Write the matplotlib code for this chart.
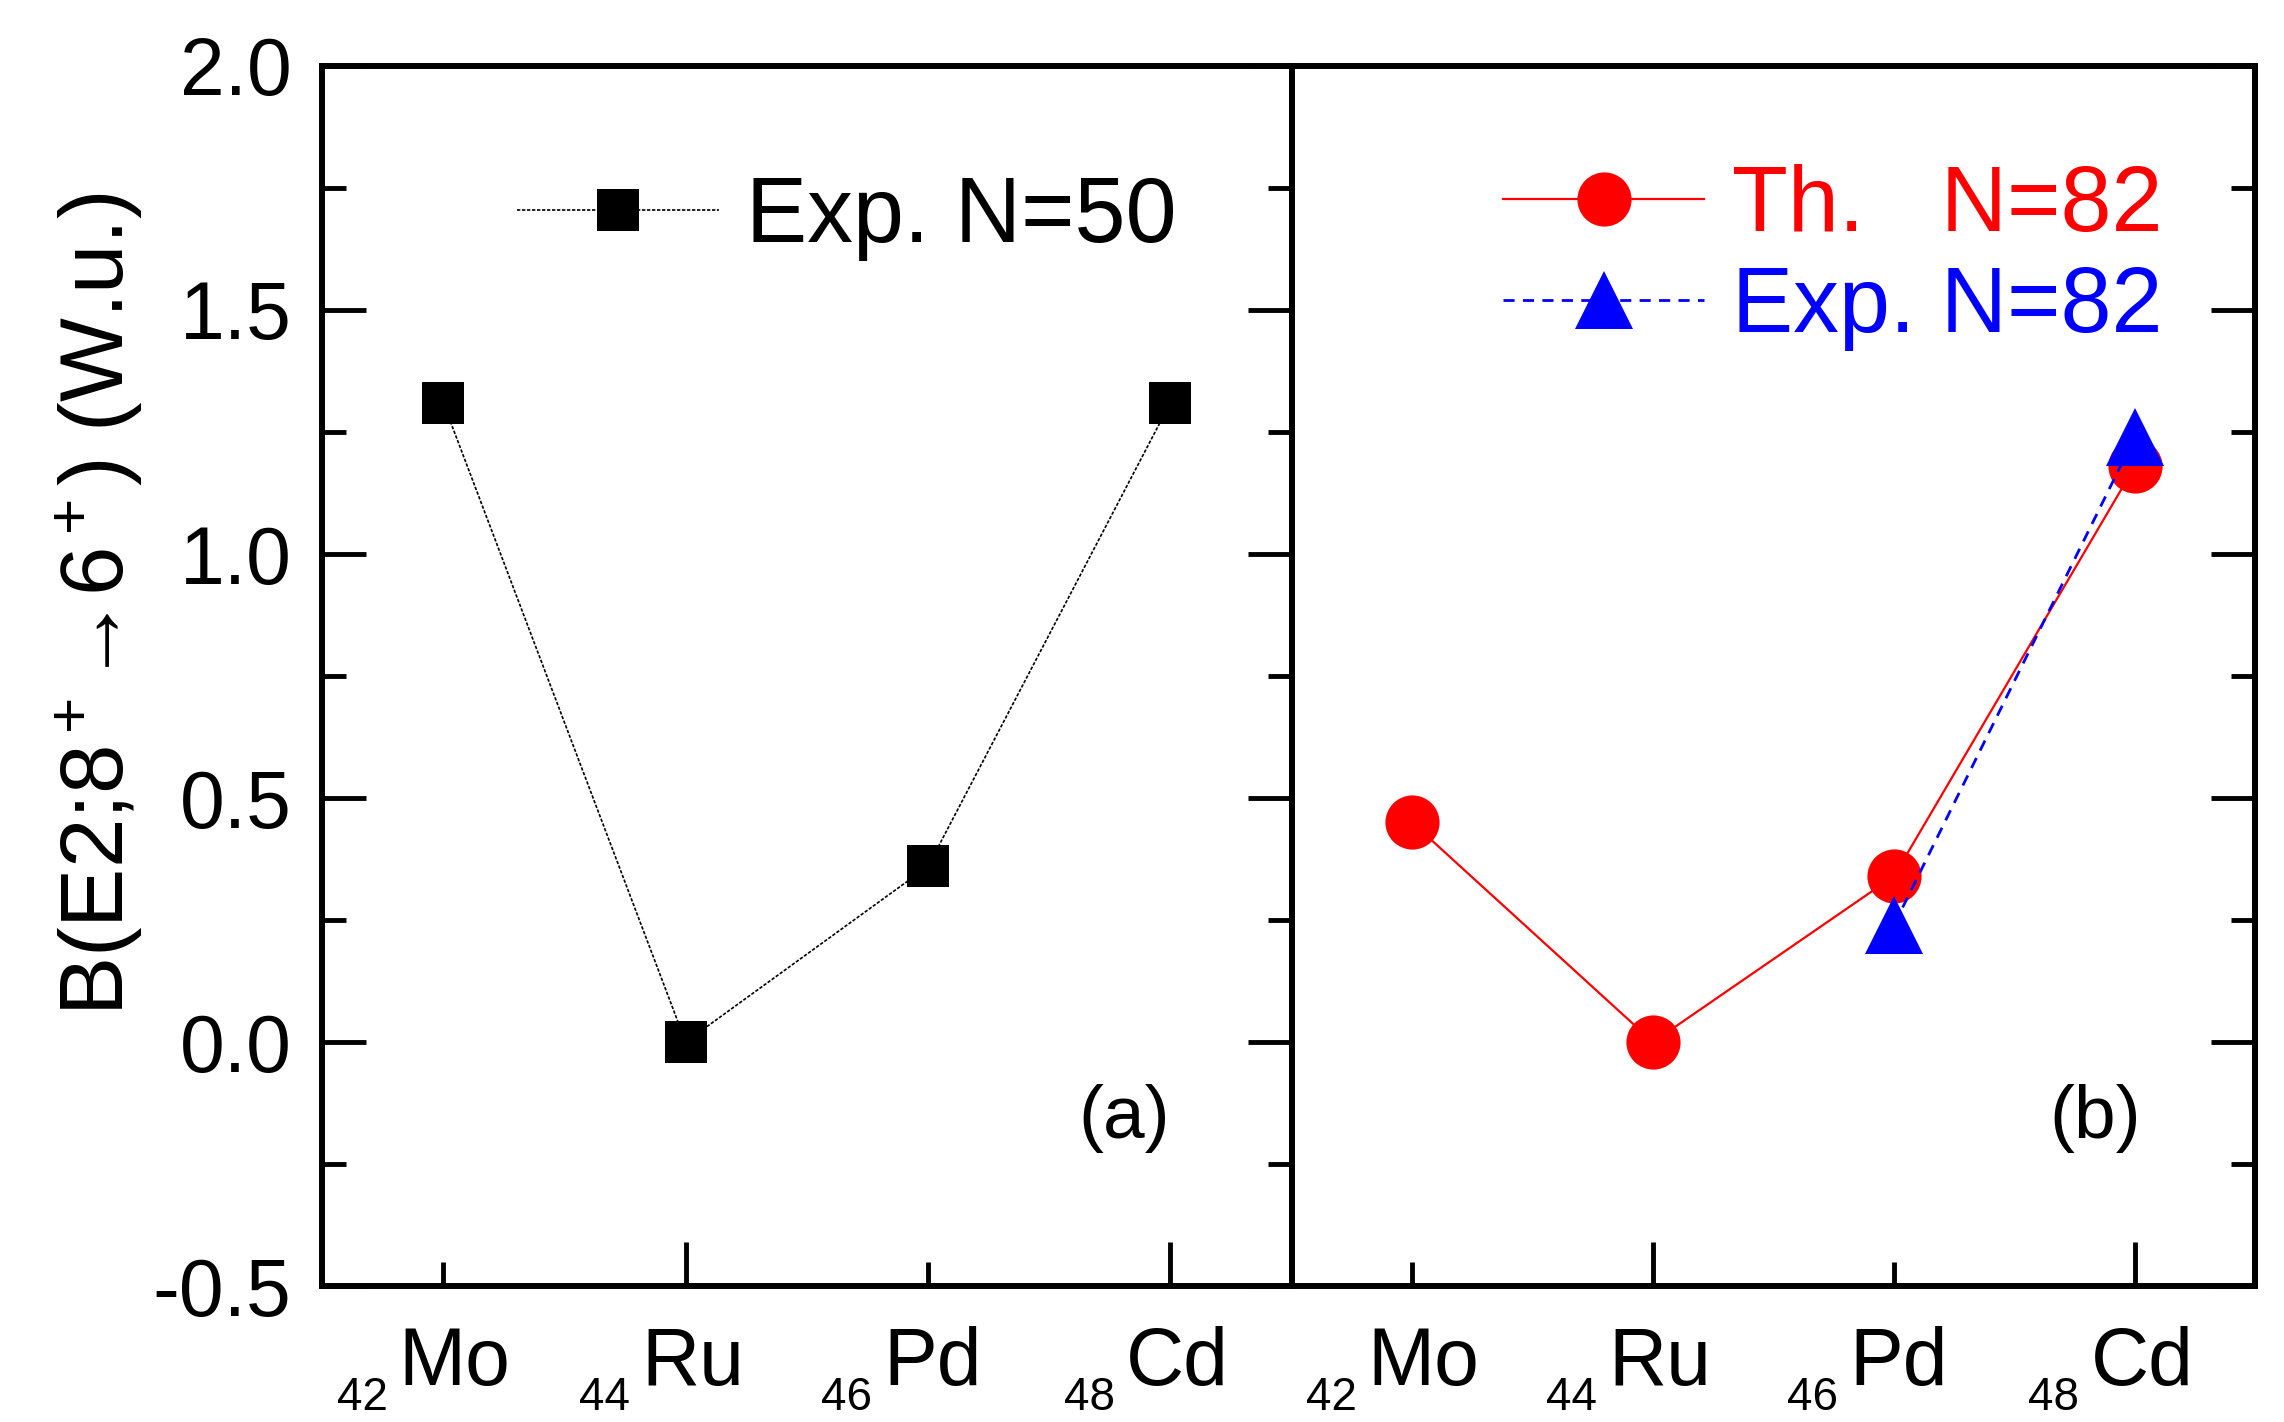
import numpy as np
import matplotlib
matplotlib.use("Agg")
import matplotlib.pyplot as plt
from matplotlib.ticker import MultipleLocator, FormatStrFormatter

plt.rcParams['font.family'] = ['Liberation Sans', 'DejaVu Sans']
plt.rcParams['mathtext.fontset'] = 'custom'
plt.rcParams['mathtext.rm'] = 'Liberation Sans'
plt.rcParams['mathtext.it'] = 'Liberation Sans:italic'
plt.rcParams['mathtext.bf'] = 'Liberation Sans:bold'

# nuclei on the x axis
elements = ['Mo', 'Ru', 'Pd', 'Cd']
Z = [42, 44, 46, 48]
xpos = np.arange(len(elements))

# B(E2; 8+ -> 6+) in W.u.
exp_n50 = [1.31, 0.00, 0.36, 1.31]
th_n82 = [0.45, 0.00, 0.34, 1.18]
exp_n82_idx = [2, 3]
exp_n82 = [0.24, 1.24]

fig = plt.figure(figsize=(22.84, 14.22), dpi=100)
ax1 = fig.add_axes([0.141, 0.0956, 0.4245, 0.858])
ax2 = fig.add_axes([0.5655, 0.0956, 0.4220, 0.858])

FS_TICK = 58
FS_SUB = 33
FS_LEG = 66

for ax in (ax1, ax2):
    ax.set_xlim(-0.5, 3.5)
    ax.set_ylim(-0.5, 2.0)
    for sp in ax.spines.values():
        sp.set_linewidth(4.3)
    ax.yaxis.set_major_locator(MultipleLocator(0.5))
    ax.yaxis.set_minor_locator(MultipleLocator(0.25))
    ax.set_xticks([1, 3], ['', ''])
    ax.set_xticks([0, 2], ['', ''], minor=True)
    ax.tick_params(axis='both', which='both', direction='in', width=3.5,
                   labelsize=FS_TICK)
    ax.tick_params(axis='both', which='major', length=32)
    ax.tick_params(axis='both', which='minor', length=17)
    ax.tick_params(axis='x', which='both', top=False, bottom=True)
    # element labels with proton number as left subscript
    trans = ax.get_xaxis_transform()
    for x, z, el in zip(xpos, Z, elements):
        ax.annotate(el, xy=(x, 0), xycoords=trans, xytext=(-32, -71),
                    textcoords='offset points', ha='left', va='baseline',
                    fontsize=FS_TICK, annotation_clip=False)
        ax.annotate(str(z), xy=(x, 0), xycoords=trans, xytext=(-40, -89),
                    textcoords='offset points', ha='right', va='baseline',
                    fontsize=FS_SUB, annotation_clip=False)

ax1.tick_params(axis='y', which='both', left=True, right=True,
                labelleft=True, pad=22)
ax2.tick_params(axis='y', which='both', left=False, right=True,
                labelleft=False)

ax1.yaxis.set_major_formatter(FormatStrFormatter('%.1f'))
ax1.set_ylabel('B(E2;8$^+$\u21926$^+$) (W.u.)', fontsize=64)
ax1.yaxis.set_label_coords(-0.183, 0.559)

# (a) experiment N=50
ax1.plot(xpos, exp_n50, color='black', lw=1.2, ls=(0, (2, 1)),
         marker='s', ms=30, mfc='black', mec='black', mew=0,
         label='Exp. N=50')
leg1 = ax1.legend(loc='center left', bbox_to_anchor=(0.201, 0.875),
                  frameon=False, fontsize=FS_LEG, handlelength=2.2,
                  handletextpad=0.3, borderpad=0, borderaxespad=0,
                  numpoints=1)

# (b) theory and experiment N=82
ax2.plot(xpos, th_n82, color='red', lw=1.6, marker='o', ms=39,
         mfc='red', mec='red', mew=0, label='Th.   N=82')
ax2.plot(xpos[exp_n82_idx], exp_n82, color='blue', lw=2,
         ls=(0, (4, 3)), marker='^', ms=42, mfc='blue', mec='blue',
         mew=0, label='Exp. N=82')
leg2 = ax2.legend(loc='center left', bbox_to_anchor=(0.219, 0.843),
                  frameon=False, fontsize=FS_LEG, handlelength=2.2,
                  handletextpad=0.3, borderpad=0, borderaxespad=0,
                  labelspacing=0.17, numpoints=1)
for t, c in zip(leg2.get_texts(), ['red', 'blue']):
    t.set_color(c)

ax1.text(0.827, 0.137, '(a)', transform=ax1.transAxes, fontsize=54,
         ha='center', va='center')
ax2.text(0.834, 0.137, '(b)', transform=ax2.transAxes, fontsize=54,
         ha='center', va='center')

fig.savefig('out.png', dpi=100)
